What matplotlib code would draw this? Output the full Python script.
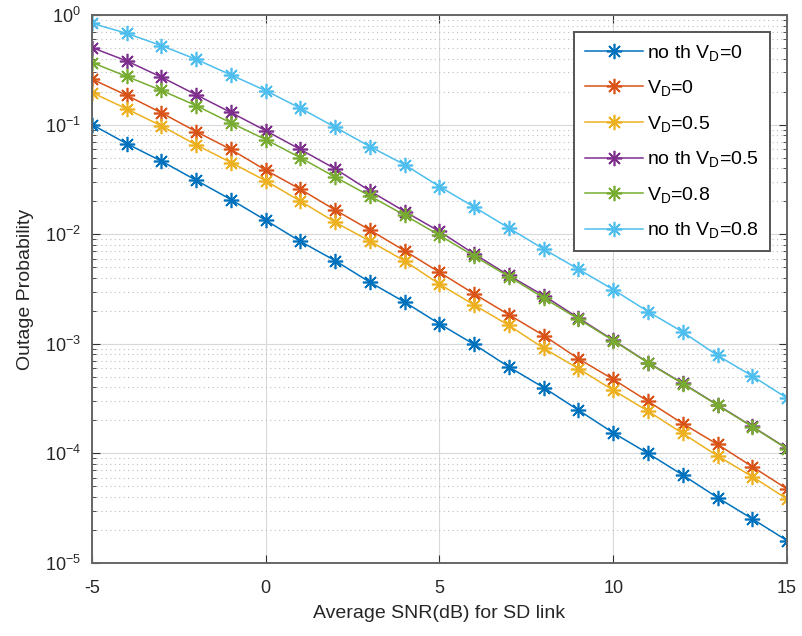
import matplotlib.pyplot as plt
from matplotlib.ticker import LogLocator, NullFormatter

plt.rcParams['font.family'] = ['Liberation Sans', 'DejaVu Sans']
plt.rcParams['mathtext.fontset'] = 'custom'
plt.rcParams['mathtext.rm'] = 'Liberation Sans'
plt.rcParams['mathtext.it'] = 'Liberation Sans:italic'
plt.rcParams['axes.unicode_minus'] = False

# Average SNR of the SD link (dB)
snr_db = list(range(-5, 16))

# Outage probability per scheme
p_noth_vd0 = [0.100, 0.067, 0.0464, 0.031, 0.0207, 0.0134, 0.00858, 0.00573, 0.00364, 0.0024,
              0.00152, 9.86e-4, 6.14e-4, 3.98e-4, 2.48e-4, 1.54e-4, 1.0e-4, 6.35e-5, 3.95e-5, 2.53e-5, 1.6e-5]
p_vd0 = [0.26, 0.185, 0.128, 0.0863, 0.0593, 0.0384, 0.0257, 0.0166, 0.0109, 0.00705,
         0.00449, 0.00285, 0.00184, 0.00119, 7.3e-4, 4.74e-4, 2.99e-4, 1.87e-4, 1.21e-4, 7.57e-5, 4.74e-5]
p_vd05 = [0.196, 0.139, 0.0973, 0.0653, 0.0451, 0.0307, 0.020, 0.01285, 0.00863, 0.0057,
          0.0035, 0.00226, 0.00147, 9.1e-4, 5.93e-4, 3.77e-4, 2.43e-4, 1.52e-4, 9.5e-5, 6.14e-5, 3.84e-5]
p_noth_vd05 = [0.504, 0.381, 0.271, 0.187, 0.129, 0.088, 0.0593, 0.0395, 0.0248, 0.0161,
               0.0106, 0.0066, 0.0042, 0.00275, 0.00172, 1.08e-3, 6.75e-4, 4.36e-4, 2.77e-4, 1.76e-4, 1.11e-4]
p_vd08 = [0.368, 0.275, 0.205, 0.149, 0.1036, 0.073, 0.0498, 0.0332, 0.0223, 0.0149,
          0.00977, 0.0063, 0.0041, 0.00262, 0.00168, 1.07e-3, 6.7e-4, 4.33e-4, 2.75e-4, 1.75e-4, 1.1e-4]
p_noth_vd08 = [0.84, 0.68, 0.525, 0.394, 0.284, 0.204, 0.141, 0.0946, 0.063, 0.043,
               0.0272, 0.0177, 0.01136, 0.00731, 0.00479, 0.00312, 0.00197, 0.00128, 7.83e-4, 5.08e-4, 3.2e-4]

series = [
    (p_noth_vd0, r'no th V$_\mathregular{D}$=0', '#0072BD'),
    (p_vd0, r'V$_\mathregular{D}$=0', '#D95319'),
    (p_vd05, r'V$_\mathregular{D}$=0.5', '#EDB120'),
    (p_noth_vd05, r'no th V$_\mathregular{D}$=0.5', '#7E2F8E'),
    (p_vd08, r'V$_\mathregular{D}$=0.8', '#77AC30'),
    (p_noth_vd08, r'no th V$_\mathregular{D}$=0.8', '#4DBEEE'),
]

fig = plt.figure(figsize=(8.02, 6.36), dpi=100)
ax = fig.add_axes([0.1147, 0.1148, 0.8666, 0.8616])

# 8-armed asterisk marker
for values, label, color in series:
    ax.semilogy(snr_db, values, color=color, marker=(8, 2, 0), markersize=11,
                markeredgewidth=1.2, linewidth=1.1, label=label)

ax.set_xlim(-5, 15)
ax.set_ylim(1e-5, 1)
ax.set_xticks([-5, 0, 5, 10, 15])
ax.yaxis.set_major_locator(LogLocator(base=10, numticks=10))
ax.yaxis.set_minor_locator(LogLocator(base=10, subs=range(2, 10), numticks=20))
ax.yaxis.set_minor_formatter(NullFormatter())

ax.grid(True, which='major', color='#d9d9d9', linewidth=0.8, linestyle='-')
ax.grid(True, which='minor', axis='y', color='#bdbdbd', linewidth=0.8, linestyle=(0, (1, 3)))
ax.set_axisbelow(True)

for spine in ax.spines.values():
    spine.set_color('#666666')
    spine.set_linewidth(1.4)
ax.tick_params(which='both', direction='in', top=True, right=True, colors='#333333',
               labelsize=13, labelcolor='#262626')
ax.tick_params(which='major', length=6)
ax.tick_params(which='minor', length=3)
ax.tick_params(axis='x', pad=12)
ax.tick_params(axis='y', pad=8)

ax.set_xlabel('Average SNR(dB) for SD link', fontsize=14, color='#262626', labelpad=6)
ax.set_ylabel('Outage Probability', fontsize=14, color='#262626', labelpad=8)

leg = ax.legend(loc='upper right', bbox_to_anchor=(0.9755, 0.969), borderaxespad=0,
                fontsize=14, fancybox=False, framealpha=1, edgecolor='#555555',
                handlelength=3.0, labelspacing=0.8, borderpad=0.55, handletextpad=0.2)
leg.get_frame().set_linewidth(1.4)

fig.savefig('out.png', dpi=100)
